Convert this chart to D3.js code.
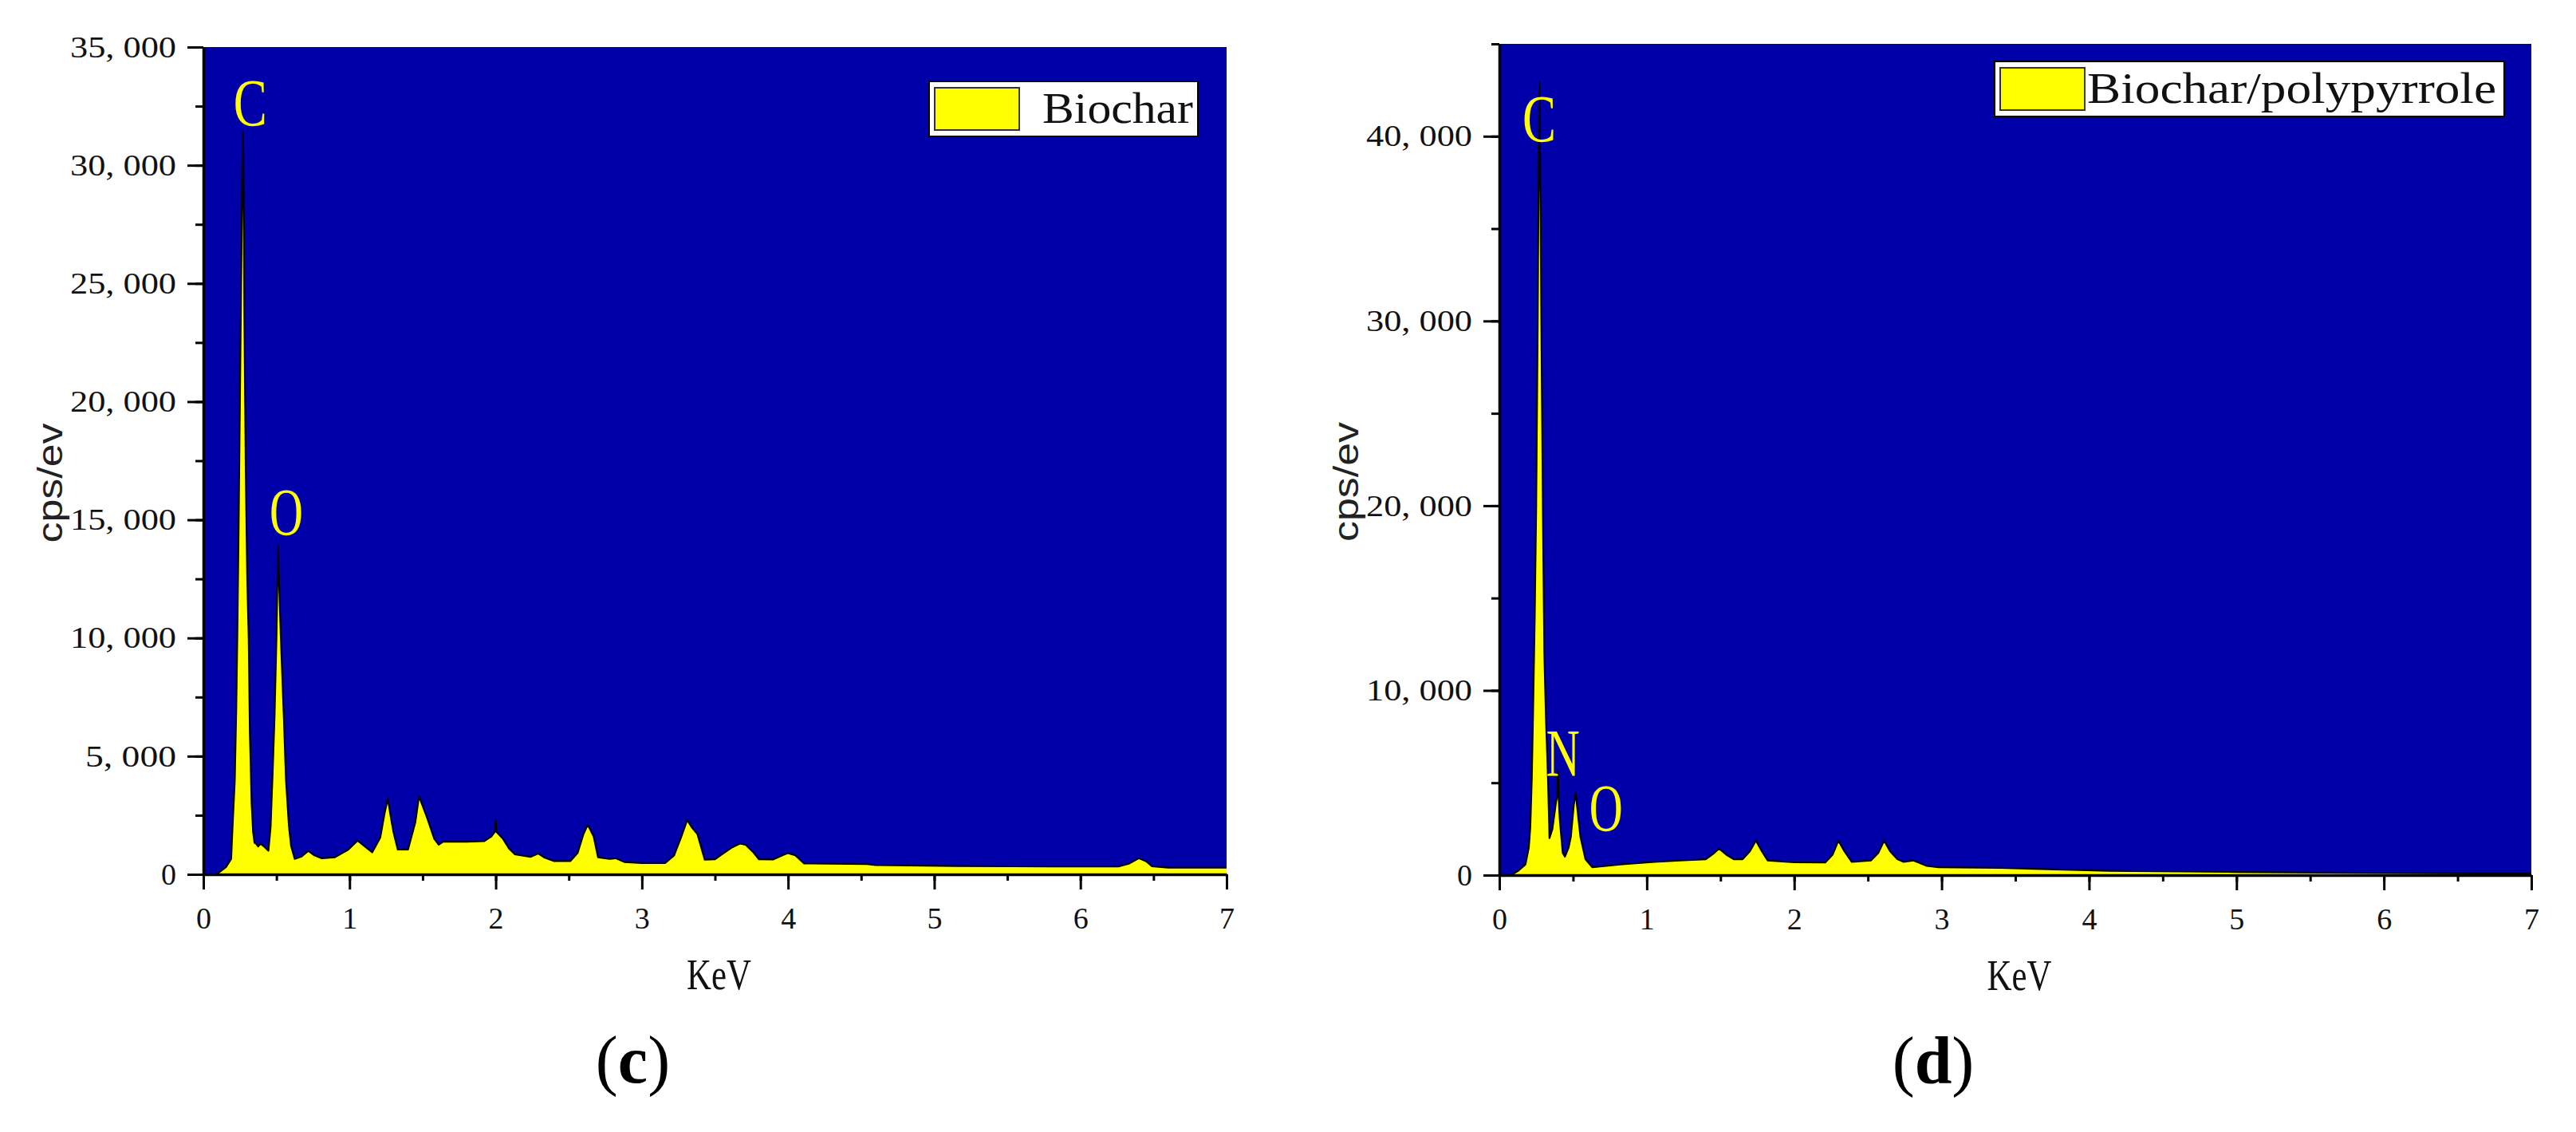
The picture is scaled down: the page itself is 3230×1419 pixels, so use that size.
<!DOCTYPE html>
<html>
<head>
<meta charset="utf-8">
<script src="https://cdn.jsdelivr.net/npm/d3@7"></script>
<style>
    body { margin: 0; background: #fff; }
</style>
</head>
<body>
<svg id="drawing_region"></svg>
<script>
// EDS spectra
const biocharKeV = [0, 0.09, 0.155, 0.19, 0.20, 0.215, 0.225, 0.232, 0.24, 0.25, 0.26, 0.266, 0.27, 0.274, 0.28, 0.29, 0.30, 0.31, 0.318, 0.33,
    0.34, 0.35, 0.36, 0.375, 0.39, 0.42, 0.445, 0.46, 0.475, 0.487, 0.50, 0.507, 0.512, 0.517, 0.53, 0.55, 0.565, 0.585, 0.60, 0.625,
    0.67, 0.718, 0.76, 0.81, 0.90, 0.95, 0.99, 1.055, 1.10, 1.155, 1.21, 1.24, 1.262, 1.28, 1.30, 1.33, 1.40, 1.45, 1.475, 1.50,
    1.53, 1.58, 1.61, 1.64, 1.80, 1.92, 1.97, 1.995, 2.0, 2.005, 2.05, 2.09, 2.13, 2.24, 2.29, 2.33, 2.40, 2.51, 2.56, 2.60,
    2.63, 2.67, 2.70, 2.78, 2.82, 2.88, 3.0, 3.16, 3.22, 3.27, 3.31, 3.34, 3.38, 3.43, 3.50, 3.56, 3.62, 3.67, 3.71, 3.76,
    3.80, 3.90, 3.96, 4.0, 4.05, 4.11, 4.54, 4.60, 5.16, 5.8, 6.26, 6.33, 6.40, 6.45, 6.49, 6.6, 7.0];
const biocharCps = [0, 0, 310, 650, 2050, 4000, 7000, 10000, 14000, 20000, 26000, 29800, 31400, 29800, 24000, 17000, 12500, 10000, 6000, 3000,
    1800, 1330, 1300, 1180, 1300, 1150, 1000, 2000, 4500, 6700, 10000, 12500, 13900, 12500, 10000, 6700, 4000, 2050, 1200, 650,
    750, 990, 800, 680, 720, 900, 1040, 1430, 1200, 930, 1550, 2600, 3200, 2500, 1800, 1050, 1050, 2200, 3300, 2900,
    2400, 1500, 1250, 1380, 1380, 1400, 1600, 1800, 2300, 1800, 1500, 1100, 850, 740, 880, 720, 560, 560, 900, 1700,
    2100, 1600, 720, 650, 680, 520, 480, 480, 800, 1600, 2300, 2000, 1700, 620, 640, 900, 1150, 1300, 1250, 950,
    640, 630, 800, 900, 800, 460, 430, 390, 350, 330, 330, 450, 680, 550, 340, 280, 280];

const ppyKeV = [0, 0.08, 0.13, 0.177, 0.20, 0.21, 0.22, 0.228, 0.24, 0.25, 0.26, 0.267, 0.272, 0.277, 0.285, 0.295, 0.305, 0.316, 0.33, 0.34,
    0.36, 0.385, 0.392, 0.397, 0.402, 0.41, 0.43, 0.445, 0.47, 0.485, 0.505, 0.518, 0.53, 0.55, 0.584, 0.63, 0.67, 0.85, 1.05, 1.25,
    1.40, 1.45, 1.49, 1.54, 1.59, 1.65, 1.70, 1.74, 1.78, 1.82, 2.0, 2.21, 2.26, 2.30, 2.34, 2.39, 2.52, 2.57, 2.61, 2.65,
    2.70, 2.74, 2.81, 2.90, 2.98, 3.40, 4.14, 5.0, 5.82, 7.0];
const ppyCps = [0, 0, 250, 580, 1500, 2600, 5200, 8500, 14000, 20000, 29800, 38400, 42900, 38400, 29800, 20000, 12000, 8500, 5170, 2000,
    2500, 4000, 4230, 5670, 4230, 3000, 1200, 1000, 1500, 2070, 3800, 4450, 3500, 2070, 860, 430, 460, 600, 720, 800,
    860, 1150, 1440, 1100, 860, 860, 1300, 1870, 1300, 790, 700, 680, 1100, 1870, 1300, 720, 790, 1200, 1870, 1300,
    860, 720, 790, 500, 430, 390, 235, 170, 120, 80];

// tick labels
const xTicks = [0, 1, 2, 3, 4, 5, 6, 7];
const biocharYTicks = [0, 5000, 10000, 15000, 20000, 25000, 30000, 35000];
const ppyYTicks = [0, 10000, 20000, 30000, 40000];

// element labels over the peaks
const biocharPeaks = [{ text: 'C', kev: 0.32, cps: 31650 }, { text: 'O', kev: 0.567, cps: 14340 }];
const ppyPeaks = [{ text: 'C', kev: 0.27, cps: 39680 }, { text: 'N', kev: 0.431, cps: 5350 }, { text: 'O', kev: 0.723, cps: 2375 }];

const SERIF = '"Liberation Serif", "DejaVu Serif", serif';

// mimic the half-width CJK serif used in the original
function halfWidth(sel, fs) {
    sel.attr('font-family', SERIF)
        .attr('font-size', fs)
        .attr('lengthAdjust', 'spacingAndGlyphs')
        .attr('textLength', function () { return this.textContent.length * fs * 0.5; });
}

class Spectrum {
    constructor(config, data) {
        this.config = config;
        this.data = data;
        this.init();
    }

    init() {
        let self = this;
        let c = self.config;
        self.svg = d3.select(c.parent);

        self.xscale = d3.scaleLinear().domain([0, 7]).range([c.left, c.right]);
        self.yscale = d3.scaleLinear().domain([0, c.ymax]).range([c.bottom, c.top]);

        self.area = d3.area()
            .x(d => self.xscale(d.kev))
            .y0(self.yscale(0))
            .y1(d => self.yscale(d.cps));
        self.line = d3.line()
            .x(d => self.xscale(d.kev))
            .y(d => self.yscale(d.cps));
    }

    render() {
        let self = this;
        let c = self.config;
        let fmt = d => d3.format(',')(d).replace(',', ', ');

        // plot background
        self.svg.append('rect')
            .attr('x', c.left).attr('y', c.top)
            .attr('width', c.right - c.left).attr('height', c.bottom - c.top)
            .attr('fill', '#0000a8');

        self.svg.append('clipPath').attr('id', c.id + '_clip')
            .append('rect')
            .attr('x', c.left).attr('y', c.top)
            .attr('width', c.right - c.left).attr('height', c.bottom - c.top);

        let plot = self.svg.append('g').attr('clip-path', `url(#${c.id}_clip)`);
        plot.append('path')
            .attr('d', self.area(self.data))
            .attr('fill', '#ffff00');
        plot.append('path')
            .attr('d', self.line(self.data))
            .attr('fill', 'none')
            .attr('stroke', 'black')
            .attr('stroke-width', 2.2)
            .attr('stroke-linejoin', 'round');

        // minor ticks
        self.svg.append('g')
            .attr('transform', `translate(${c.left},0)`)
            .call(d3.axisLeft(self.yscale).tickValues(d3.range(0, c.ymax + 1, c.yminor)).tickSize(10).tickFormat('').tickSizeOuter(0))
            .call(g => g.select('.domain').remove());
        self.svg.append('g')
            .attr('transform', `translate(0,${c.bottom})`)
            .call(d3.axisBottom(self.xscale).tickValues(d3.range(0, 7.01, 0.5)).tickSize(8).tickFormat('').tickSizeOuter(0))
            .call(g => g.select('.domain').remove());

        // major axes
        let yg = self.svg.append('g')
            .attr('transform', `translate(${c.left},0)`)
            .call(d3.axisLeft(self.yscale).tickValues(c.yticks).tickSize(20).tickPadding(14).tickFormat(fmt).tickSizeOuter(0));
        let xg = self.svg.append('g')
            .attr('transform', `translate(0,${c.bottom})`)
            .call(d3.axisBottom(self.xscale).tickValues(xTicks).tickSize(19).tickPadding(22).tickFormat(d3.format('d')).tickSizeOuter(0));

        self.svg.selectAll('.tick line').attr('stroke-width', 3);
        [xg, yg].forEach(g => {
            g.select('.domain').attr('stroke-width', 3.5);
            g.selectAll('.tick text').attr('fill', '#111').call(halfWidth, 38);
        });

        // axis titles
        self.svg.append('text')
            .attr('x', (c.left + c.right) / 2 + 5)
            .attr('y', c.bottom + 144)
            .attr('text-anchor', 'middle')
            .attr('fill', '#111')
            .text('KeV')
            .call(halfWidth, 54);

        self.svg.append('text')
            .attr('transform', `translate(${c.left - 193},${(c.top + c.bottom) / 2 + 28}) rotate(-90)`)
            .attr('text-anchor', 'middle')
            .attr('dominant-baseline', 'central')
            .attr('font-family', '"Liberation Sans", Arial, sans-serif')
            .attr('font-size', 44)
            .attr('textLength', 150)
            .attr('lengthAdjust', 'spacingAndGlyphs')
            .attr('fill', '#222')
            .text('cps/ev');

        // peak labels
        self.svg.selectAll('.peak_' + c.id)
            .data(c.peaks)
            .enter()
            .append('text')
            .attr('class', 'peak_' + c.id)
            .attr('x', d => self.xscale(d.kev))
            .attr('y', d => self.yscale(d.cps))
            .attr('text-anchor', 'middle')
            .attr('fill', '#ffff00')
            .text(d => d.text)
            .call(halfWidth, 84);

        // legend
        let lg = self.svg.append('g')
            .attr('transform', `translate(${c.right - c.legendOffset},${c.top + c.legendTop})`);
        lg.append('rect')
            .attr('width', c.legendWidth).attr('height', 69)
            .attr('fill', 'white').attr('stroke', 'black').attr('stroke-width', 2);
        lg.append('rect')
            .attr('x', 7).attr('y', 8).attr('width', 106).attr('height', 53)
            .attr('fill', '#ffff00').attr('stroke', '#333').attr('stroke-width', 2);
        lg.append('text')
            .attr('x', c.legendTextX).attr('y', 52)
            .attr('fill', '#111')
            .text(c.name)
            .call(halfWidth, 54);

        // panel letter
        let cap = self.svg.append('text')
            .attr('x', (c.left + c.right) / 2 - 103)
            .attr('y', c.bottom + 261)
            .attr('text-anchor', 'middle')
            .attr('font-family', SERIF)
            .attr('font-size', 84)
            .attr('fill', 'black');
        cap.append('tspan').text('(');
        cap.append('tspan').attr('font-weight', 'bold').text(c.letter);
        cap.append('tspan').text(')');
    }
}

d3.select('#drawing_region')
    .attr('width', 3230)
    .attr('height', 1419);

let biochar = new Spectrum({
    parent: '#drawing_region', id: 'c', name: 'Biochar', letter: 'c',
    left: 255, right: 1538, top: 59, bottom: 1096,
    ymax: 35000, yminor: 2500, yticks: biocharYTicks, peaks: biocharPeaks,
    legendOffset: 373, legendTop: 43, legendWidth: 337, legendTextX: 142
}, biocharKeV.map((k, i) => ({ kev: k, cps: biocharCps[i] })));
biochar.render();

let ppy = new Spectrum({
    parent: '#drawing_region', id: 'd', name: 'Biochar/polypyrrole', letter: 'd',
    left: 1880, right: 3174, top: 55, bottom: 1097,
    ymax: 45000, yminor: 5000, yticks: ppyYTicks, peaks: ppyPeaks,
    legendOffset: 673, legendTop: 22, legendWidth: 639, legendTextX: 116
}, ppyKeV.map((k, i) => ({ kev: k, cps: ppyCps[i] })));
ppy.render();
</script>
</body>
</html>
